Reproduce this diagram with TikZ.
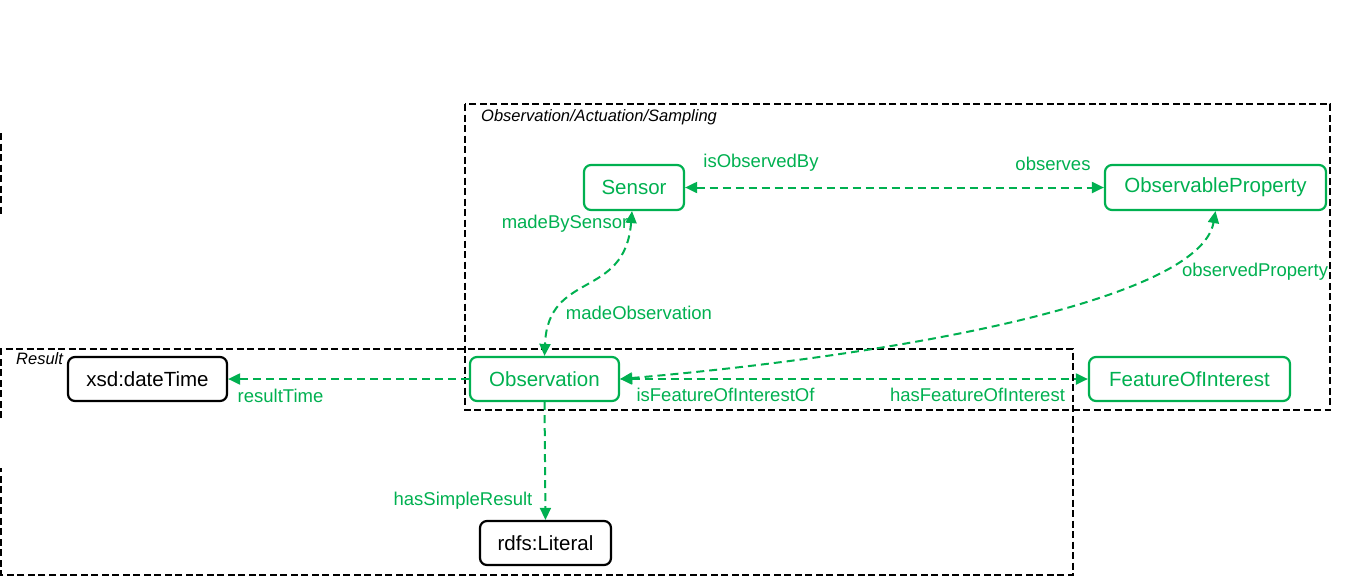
\documentclass[tikz,border=0pt]{standalone}
\usepackage{fontspec}
\setmainfont{Liberation Sans}
\usetikzlibrary{arrows.meta}
\definecolor{og}{RGB}{0,176,80}
\begin{document}
\begin{tikzpicture}[x=1pt,y=-1pt,
  grp/.style={draw=black,line width=2pt,dash pattern=on 7pt off 3.5pt},
  gnode/.style={draw=og,line width=2.2pt,rounded corners=7pt,text=og,
    font=\fontsize{20.5}{24}\selectfont,minimum height=44pt,inner sep=0pt},
  bnode/.style={gnode,draw=black,text=black},
  rel/.style={draw=og,line width=2pt,dash pattern=on 8pt off 5pt},
  tipe/.style={-{Triangle[length=12pt,width=11pt]}},
  tipb/.style={{Triangle[length=12pt,width=11pt]}-{Triangle[length=12pt,width=11pt]}},
  lbl/.style={text=og,font=\fontsize{18.5}{22}\selectfont,inner sep=0pt},
  glbl/.style={font=\itshape\fontsize{16.5}{19}\selectfont,inner sep=0pt,anchor=west}]
\useasboundingbox (0,0) rectangle (1349,576);

% group boxes
\draw[grp] (465,104) rectangle (1330,410);
\node[glbl] (oaslbl) at (481,117) {Observation/Actuation/Sampling};
\draw[grp] (1,418) -- (1,349) -- (1073,349) -- (1073,574.5) -- (1,574.5) -- (1,468);
\node[glbl] (reslbl) at (16,359) {Result};
\draw[grp] (1,133) -- (1,215);

% nodes
\node[gnode,minimum width=100pt,minimum height=45pt] (sensor) at (634,187.5) {Sensor};
\node[gnode,minimum width=221pt,minimum height=45pt] (obsprop) at (1215.5,187.5) {ObservableProperty};
\node[gnode,minimum width=149pt] (obs) at (544.5,379) {Observation};
\node[gnode,minimum width=201pt] (foi) at (1189.5,379) {FeatureOfInterest};
\node[bnode,minimum width=159pt] (dt) at (147.5,379) {xsd:dateTime};
\node[bnode,minimum width=131pt] (lit) at (545.5,543) {rdfs:Literal};

% connectors
\draw[rel,tipb] (sensor.east) -- (obsprop.west);
\draw[rel,tipb] ([xshift=-2pt]sensor.south) .. controls (625,300) and (548,270) .. (obs.north);
\draw[rel,tipb] (obs.east) .. controls (900,355) and (1200,300) .. (obsprop.south);
\draw[rel,tipb] (obs.east) -- (foi.west);
\draw[rel,tipe] (obs.west) -- (dt.east);
\draw[rel,tipe] (obs.south) -- (lit.north);

% labels
\node[lbl] (l1) at (761,163) {isObservedBy};
\node[lbl] (l2) at (1053,164) {observes};
\node[lbl] (l3) at (565,224) {madeBySensor};
\node[lbl] (l4) at (639,313) {madeObservation};
\node[lbl] (l5) at (1255,272) {observedProperty};
\node[lbl] (l6) at (725.5,395) {isFeatureOfInterestOf};
\node[lbl] (l7) at (977.5,395) {hasFeatureOfInterest};
\node[lbl] (l8) at (280.5,396) {resultTime};
\node[lbl] (l9) at (463,501) {hasSimpleResult};
\end{tikzpicture}
\end{document}
